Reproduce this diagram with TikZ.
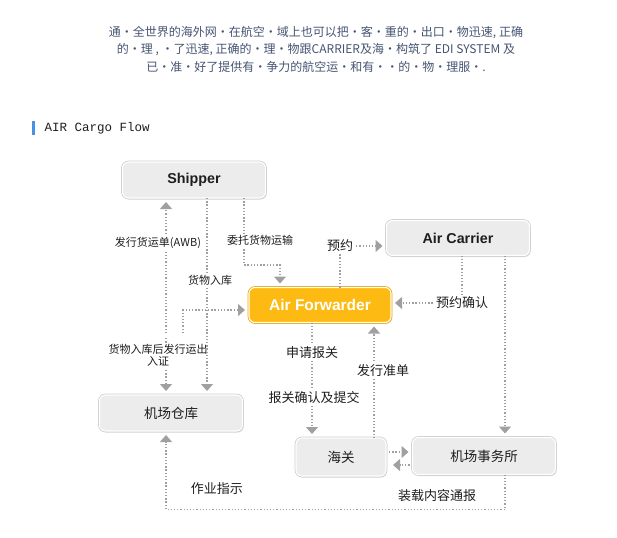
\documentclass[tikz,border=0pt]{standalone}
\usepackage{fontspec}
\setmainfont{Noto Sans CJK SC}
\newfontfamily\latinbold{Liberation Sans}
\newfontfamily\monofont{Liberation Mono}
\usepackage{xcolor}
\usetikzlibrary{positioning,arrows.meta,shadows}
\definecolor{boxfill}{RGB}{236,236,236}
\definecolor{boxline}{RGB}{204,204,204}
\definecolor{fwdfill}{RGB}{253,186,18}
\definecolor{fwdline}{RGB}{238,166,0}
\definecolor{lineclr}{RGB}{160,160,160}
\definecolor{introclr}{RGB}{70,84,114}
\definecolor{barclr}{RGB}{74,144,226}
\definecolor{txtclr}{RGB}{30,30,30}
\tikzset{
  caixa/.style={rectangle, rounded corners=6pt, fill=boxfill, draw=white, line width=1.1pt,
    drop shadow={shadow xshift=1.2pt, shadow yshift=-1.6pt, opacity=0.22},
    preaction={draw=boxline, line width=2.6pt},
    minimum width=143pt, minimum height=36pt, inner sep=0pt, outer sep=0pt,
    text=txtclr, font=\fontsize{13.5}{15}\selectfont},
  caixaen/.style={caixa, font=\latinbold\bfseries\fontsize{14.3}{16}\selectfont},
  destaque/.style={rectangle, rounded corners=6pt, fill=fwdfill, draw=white, line width=1.1pt,
    drop shadow={shadow xshift=1.2pt, shadow yshift=-1.6pt, opacity=0.22},
    preaction={draw=fwdline, line width=2.6pt},
    minimum width=142pt, minimum height=35pt, inner sep=0pt, outer sep=0pt,
    text=white, font=\latinbold\bfseries\fontsize{15.5}{17}\selectfont},
  seta/.style={draw=lineclr, line width=1.3pt, dash pattern=on 1.3pt off 1.9pt,
    -{Triangle[width=12pt,length=7pt]}, shorten >=4pt},
  rotulo/.style={fill=white, inner sep=1.5pt, text=txtclr, font=\fontsize{13}{15}\selectfont},
  rotulop/.style={rotulo, font=\fontsize{11}{12}\selectfont}
}
\begin{document}
\begin{tikzpicture}[x=1pt, y=1pt]
\useasboundingbox (0,0) rectangle (617,-537);
% texto de abertura e titulo
\node[align=center, text=introclr, font=\fontsize{12}{17.5}\selectfont] (intro) at (316,-49)
  {通・全世界的海外网・在航空・域上也可以把・客・重的・出口・物迅速, 正确\\
   的・理 , ・了迅速, 正确的・理・物跟CARRIER及海・构筑了 EDI SYSTEM 及\\
   已・准・好了提供有・争力的航空运・和有・・的・物・理服・.};
\fill[barclr] (32,-121) rectangle (35,-135);
\node[anchor=west, text=txtclr, font=\monofont\fontsize{12.5}{14}\selectfont] (titulo) at (41,-128) {AIR Cargo Flow};
% caixas
\node[caixaen] (shipper) at (194,-180) {Shipper};
\node[destaque, below=89.5pt of shipper, xshift=126pt] (forwarder) {Air Forwarder};
\node[caixaen, minimum height=35pt, above=32pt of forwarder, xshift=138pt] (carrier) {Air Carrier};
\node[caixa, below=197pt of shipper, xshift=-23pt] (warehouse) {机场仓库};
\node[caixa, minimum width=90pt, minimum height=38pt, below=115.5pt of forwarder, xshift=21pt] (customs) {海关};
\node[caixa, minimum height=37pt, right=26.5pt of customs, yshift=1pt] (office) {机场事务所};
% ligacoes
\draw[seta] ([xshift=-5pt,yshift=62pt]warehouse.north) -- node[rotulop, pos=0.67, xshift=-8pt] {发行货运单(AWB)} ([xshift=-28pt]shipper.south);
\draw[seta] ([xshift=-5pt,yshift=57pt]warehouse.north) -- node[rotulop, pos=0.3, xshift=-8pt, align=center] {货物入库后发行运出\\入证} ([xshift=-5pt]warehouse.north);
\draw[seta] ([xshift=12pt,yshift=62pt]warehouse.north) |- ([yshift=-5pt]forwarder.west);
\draw[seta] ([xshift=13pt]shipper.south) -- node[rotulop, pos=0.42, xshift=3pt] {货物入库} ([xshift=36pt]warehouse.north);
\draw[seta] ([xshift=50pt]shipper.south) -- node[rotulop, pos=0.63, xshift=16pt] {委托货物运输} ++(0,-67pt) -| ([xshift=-40pt]forwarder.north);
\draw[seta] ([xshift=20pt]forwarder.north) |- node[rotulo, pos=0.5] {预约} ([yshift=-8pt]carrier.west);
\draw[seta] ([xshift=4pt]carrier.south) |- node[rotulo, pos=0.5] {预约确认} ([yshift=2pt]forwarder.east);
\draw[seta] ([xshift=47pt]carrier.south) -- ([xshift=21pt]office.north);
\draw[seta] ([xshift=-8pt]forwarder.south) -- node[rotulo, pos=0.26] {申请报关} node[rotulo, pos=0.65, xshift=2pt] {报关确认及提交} ([xshift=-29pt]customs.north);
\draw[seta] ([xshift=33pt]customs.north) -- node[rotulo, pos=0.58, xshift=9pt] {发行准单} ([xshift=54pt]forwarder.south);
\draw[seta, shorten <=3pt] ([yshift=5pt]customs.east) -- ([yshift=4pt]office.west);
\draw[seta, shorten <=3pt, shorten >=7pt] ([yshift=-9pt]office.west) -- ([yshift=-8pt]customs.east);
\draw[seta] ([xshift=21pt]office.south) -- ++(0,-35pt) -| node[rotulo, pos=0.1, above=5.5pt] {装载内容通报} node[rotulo, pos=0.425, above=12.5pt] {作业指示} ([xshift=-5pt]warehouse.south);
\end{tikzpicture}
\end{document}
